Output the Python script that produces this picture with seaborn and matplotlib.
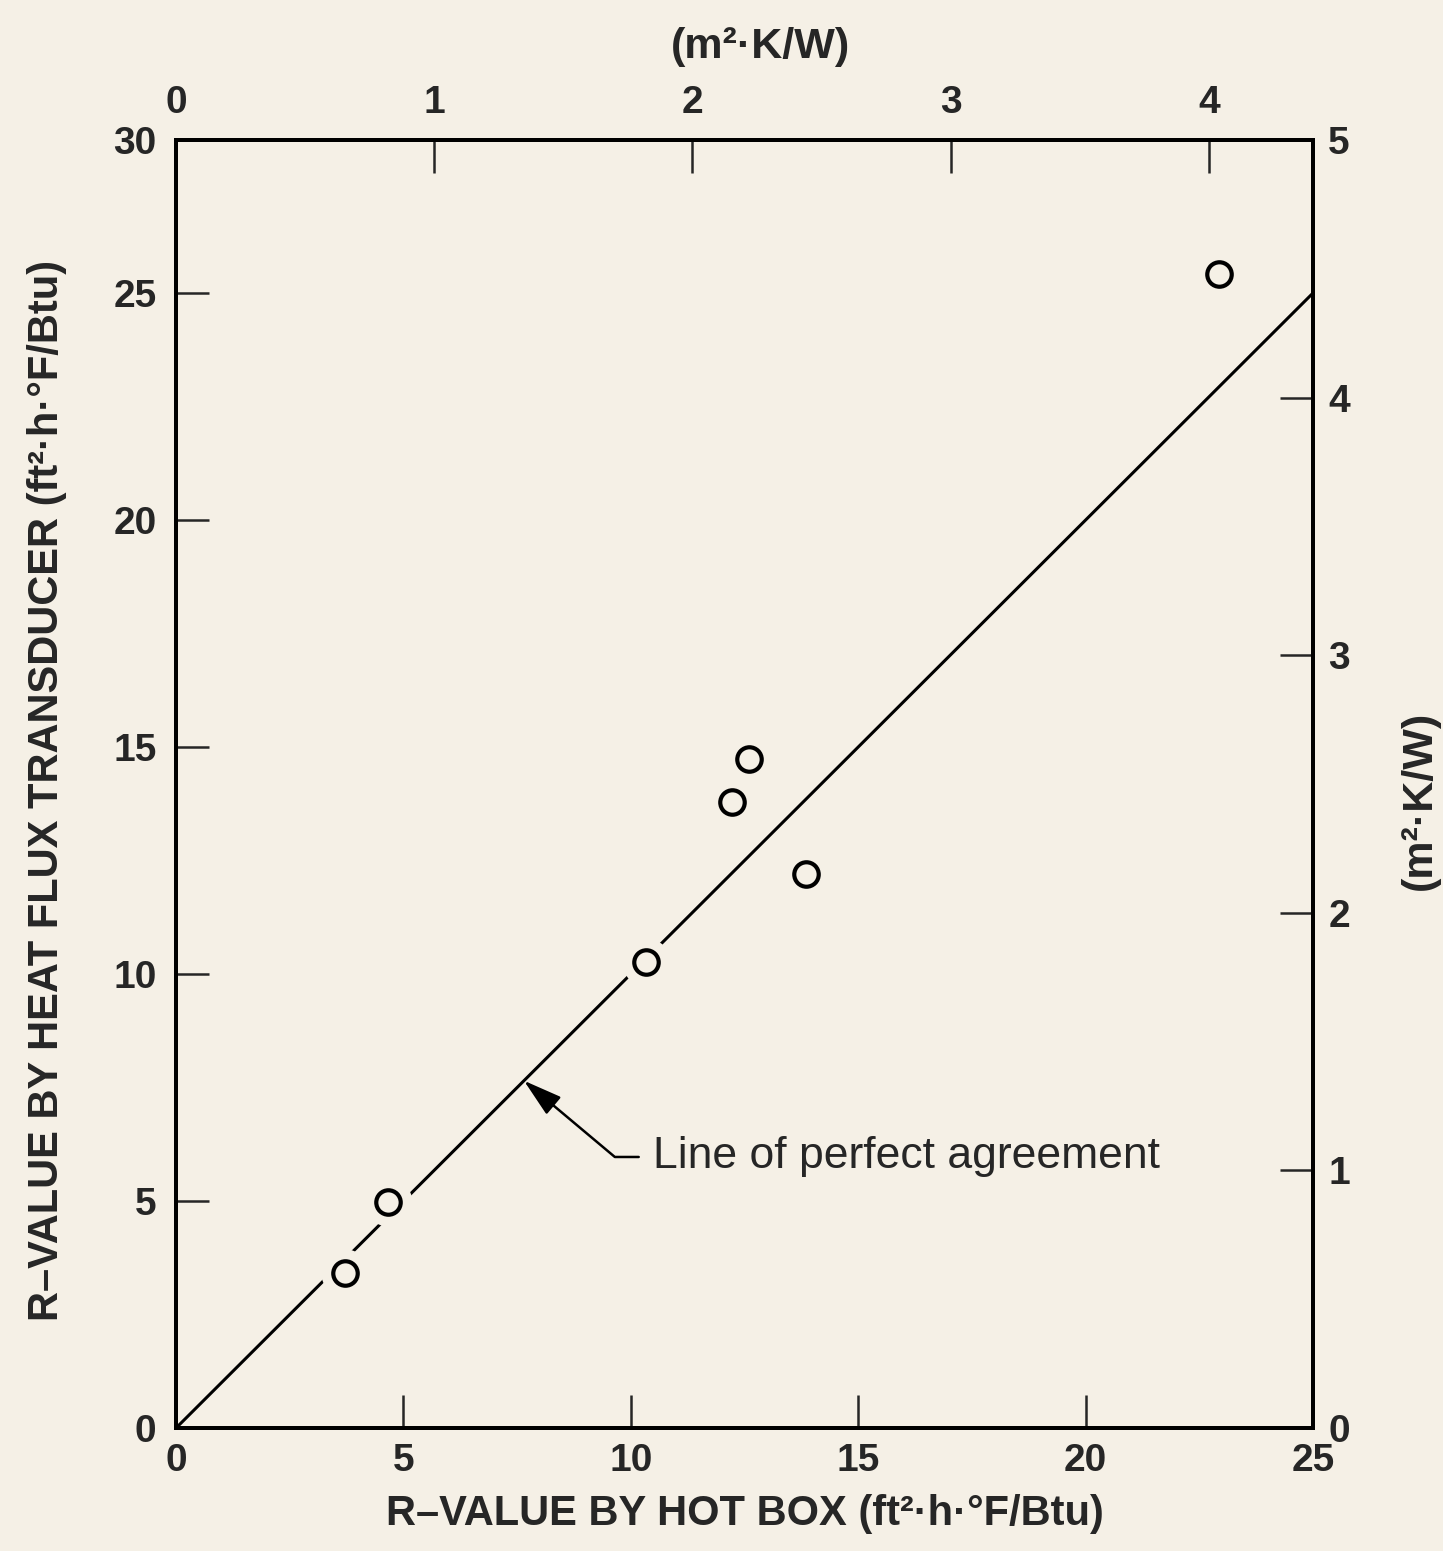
import numpy as np
import pandas as pd
import seaborn as sns
import matplotlib.pyplot as plt

# R-values (ft2.h.F/Btu)
hot_box = [3.72, 4.66, 10.33, 12.22, 12.60, 13.85, 22.93]
transducer = [3.41, 4.98, 10.26, 13.79, 14.74, 12.20, 25.42]

# line of perfect agreement
line_x = [0, 25]
line_y = [0, 25]

x_ticks = [0, 5, 10, 15, 20, 25]
y_ticks = [0, 5, 10, 15, 20, 25]
y_labels = ['0', '5', '10', '15', '20', '25', '30']
si_top_ticks = [0, 1, 2, 3, 4]
si_right_ticks = [0, 1, 2, 3, 4, 5]
si_factor = 5.678  # ft2.h.F/Btu per m2.K/W

df = pd.DataFrame({'hot_box': hot_box, 'transducer': transducer})
df_line = pd.DataFrame({'x': line_x, 'y': line_y})

bg = '#f5f0e6'
y_top = 28.37

sns.set_style('ticks')
plt.rcParams['font.family'] = ['Liberation Sans', 'DejaVu Sans']
plt.rcParams['font.weight'] = 'bold'
plt.rcParams['axes.labelweight'] = 'bold'

fig = plt.figure(figsize=(14.43, 15.51), dpi=100, facecolor=bg)
ax = fig.add_axes([0.122, 0.0793, 0.7879, 0.8304])
ax.set_facecolor(bg)

# main line, then a background halo to break the line round the points
sns.lineplot(data=df_line, x='x', y='y', ax=ax, color='black', lw=2.2, zorder=2)
sns.scatterplot(data=df, x='hot_box', y='transducer', ax=ax, s=1200,
                color=bg, edgecolor=bg, linewidth=0, zorder=3)
sns.scatterplot(data=df, x='hot_box', y='transducer', ax=ax, s=310,
                color=bg, edgecolor='black', linewidth=3.0, zorder=4)

ax.set_xlim(0, 25)
ax.set_ylim(0, y_top)
ax.set_xticks(x_ticks)
ax.set_yticks(y_ticks + [y_top])
ax.set_yticklabels(y_labels)

ax.set_xlabel('R\u2013VALUE BY HOT BOX (ft\u00b2\u00b7h\u00b7\u00b0F/Btu)', fontsize=30)
ax.set_ylabel('R\u2013VALUE BY HEAT FLUX TRANSDUCER (ft\u00b2\u00b7h\u00b7\u00b0F/Btu)', fontsize=30)
ax.xaxis.set_label_coords(0.5, -0.051)
ax.yaxis.set_label_coords(-0.096, 0.495)

# SI axes
axt = ax.twiny()
axt.set_xlim(0, 25 / si_factor)
axt.set_xticks(si_top_ticks)
axt.set_xlabel('(m\u00b2\u00b7K/W)', fontsize=31)
axt.xaxis.set_label_coords(0.514, 1.064)

axr = ax.twinx()
axr.set_ylim(0, 5)
axr.set_yticks(si_right_ticks)
axr.set_ylabel('(m\u00b2\u00b7K/W)', fontsize=31)
axr.yaxis.set_label_coords(1.076, 0.4876)

for a in (ax, axt, axr):
    a.tick_params(direction='in', length=24, width=1.8, labelsize=28, pad=14)
    for sp in a.spines.values():
        sp.set_visible(True)
        sp.set_linewidth(2.8)
        sp.set_color('black')
ax.tick_params(axis='x', pad=11)
axr.tick_params(axis='y', pad=11)

ax.annotate('Line of perfect agreement', xy=(7.65, 7.65), xytext=(10.49, 5.97),
            ha='left', va='center', fontsize=32, fontweight='normal',
            arrowprops=dict(arrowstyle='-|>,head_length=1.2,head_width=0.35',
                            mutation_scale=20, color='black', lw=1.8,
                            relpos=(0, 0.5), shrinkA=8, shrinkB=0,
                            connectionstyle='angle,angleA=0,angleB=140,rad=0'))

fig.savefig('out.png', dpi=100, facecolor=bg)
